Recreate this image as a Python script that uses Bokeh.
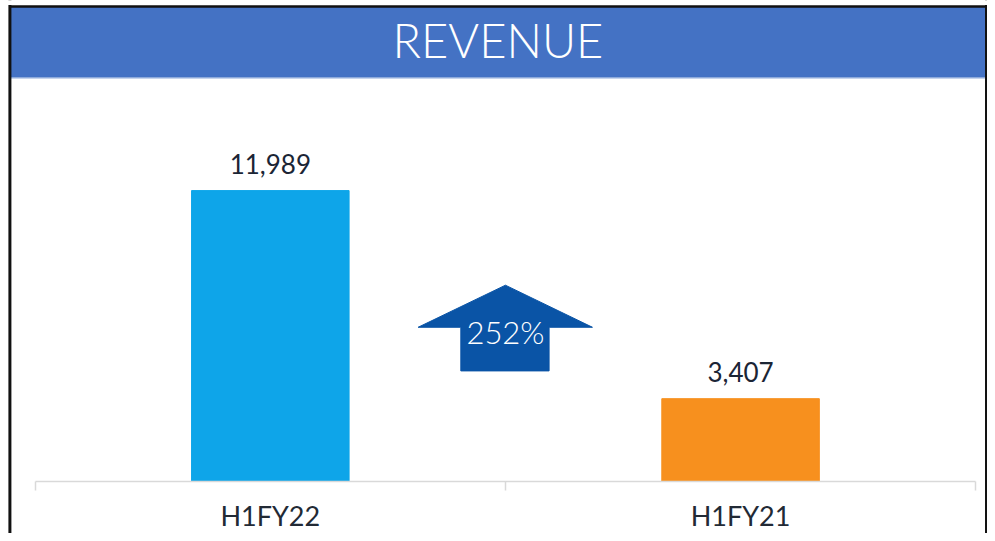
from bokeh.plotting import figure
from bokeh.models import (ColumnDataSource, LinearAxis, FixedTicker, Range1d,
                          BoxAnnotation, Span, LabelSet)
from bokeh.core.properties import value
from bokeh.embed import file_html
from bokeh.resources import INLINE

# ---- data ----
categories = ["H1FY22", "H1FY21"]
revenue = [11989, 3407]
value_labels = ["11,989", "3,407"]
bar_colors = ["#0EA5E9", "#F7901E"]
growth_label = "252%"
title_text = "REVENUE"

FONT = "Lato"
LIGHT = "Lato Light"

xs = [i + 0.5 for i in range(len(categories))]
src = ColumnDataSource(dict(x=xs, top=revenue, label=value_labels, color=bar_colors))

p = figure(width=987, height=533, output_backend="svg", toolbar_location=None,
           x_axis_location=None, y_axis_location=None,
           x_range=Range1d(-0.0738, 2.0251), y_range=Range1d(-2153, 19828),
           min_border=0, outline_line_color=None,
           background_fill_color="white", border_fill_color="white")
p.grid.visible = False

# header band and frame border
left_edge, right_edge = -0.0538, 2.0230
top_edge, header_bottom = 19585, 16640
p.add_layout(BoxAnnotation(left=left_edge, right=right_edge, top=top_edge,
                           bottom=header_bottom, fill_color="#4472C4", fill_alpha=1,
                           line_color=None, level="underlay"))
p.segment(x0=[left_edge], y0=[header_bottom], x1=[right_edge], y1=[header_bottom],
          line_color="#8EAADB", line_width=1.5)
p.text(x=[0.984], y=[18200], text=[title_text], text_align="center",
       text_baseline="alphabetic", text_color="white",
       text_font=value(LIGHT), text_font_size="47px")

p.add_layout(Span(location=left_edge, dimension="height", line_color="#111111", line_width=3))
p.add_layout(Span(location=right_edge, dimension="height", line_color="#111111", line_width=3))
p.segment(x0=[left_edge], y0=[top_edge], x1=[right_edge], y1=[top_edge],
          line_color="#111111", line_width=2.5)
# hide the border lines above the top edge
p.add_layout(BoxAnnotation(bottom=top_edge + 60, fill_color="white", fill_alpha=1,
                           line_color=None))

# bars
p.vbar(x="x", top="top", bottom=0, width=0.335, color="color", source=src)
p.add_layout(LabelSet(x="x", y="top", text="label", source=src, y_offset=17,
                      text_align="center", text_baseline="alphabetic",
                      text_color="#1B2535", text_font=value(FONT),
                      text_font_size=value("26px")))

# growth arrow
ax = [1.0, 1.185, 1.0928, 1.0928, 0.9051, 0.9051, 0.8143]
ay = [8087, 6352, 6352, 4552, 4552, 6352, 6352]
p.patch(ax, ay, fill_color="#0A54A6", line_color="#0A54A6")
p.text(x=[1.0], y=[6150], text=[growth_label], text_align="center",
       text_baseline="alphabetic", text_color="white",
       text_font=value(LIGHT), text_font_size="31px")

# category axis
axis = LinearAxis(fixed_location=0, bounds=(0, 2),
                  ticker=FixedTicker(ticks=xs, minor_ticks=[0, 1, 2]))
axis.major_label_overrides = {x: c for x, c in zip(xs, categories)}
axis.major_tick_line_color = None
axis.minor_tick_in = 0
axis.minor_tick_out = 9
axis.minor_tick_line_color = "#D9D9D9"
axis.minor_tick_line_width = 1.5
axis.axis_line_color = "#D9D9D9"
axis.axis_line_width = 1.5
axis.major_label_standoff = 9
axis.major_label_text_font = FONT
axis.major_label_text_font_size = "27px"
axis.major_label_text_color = "#222A35"
p.add_layout(axis, "below")

open("out.html", "w").write(file_html(p, INLINE))
